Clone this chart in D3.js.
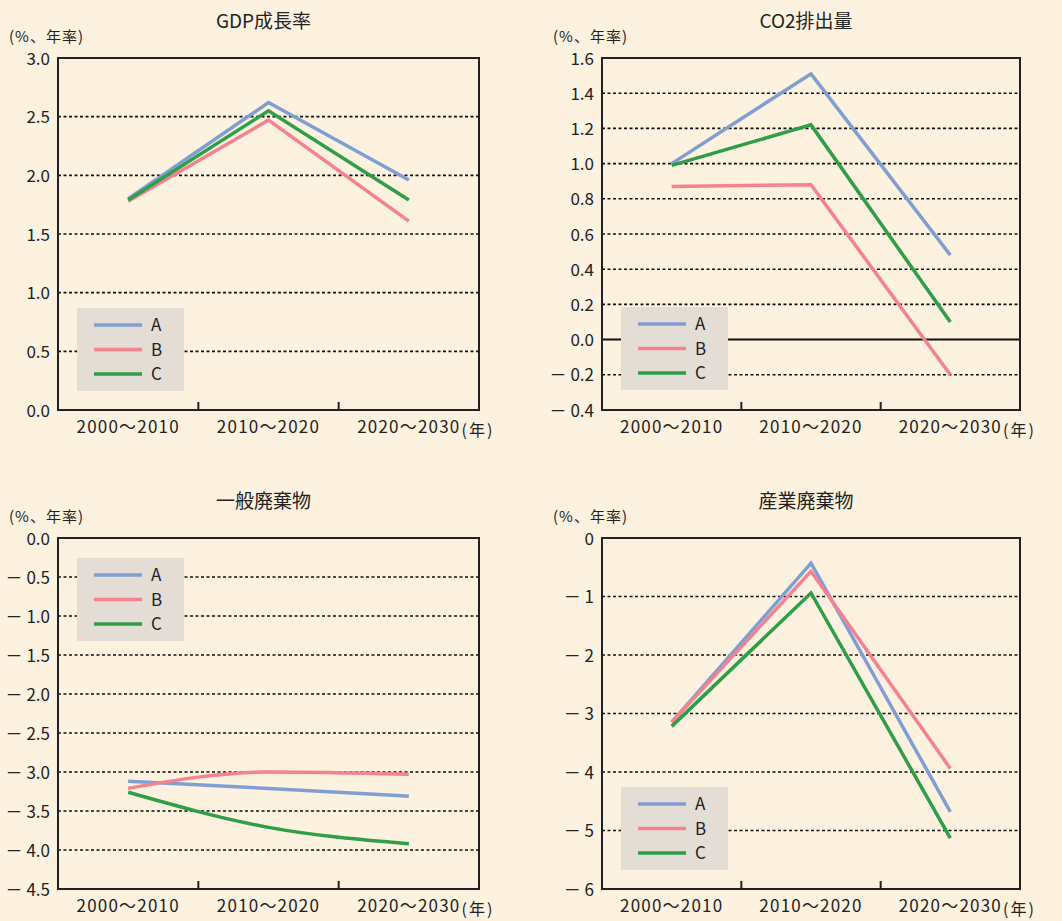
<!DOCTYPE html>
<html><head><meta charset="utf-8">
<script src="https://cdn.jsdelivr.net/npm/d3@7"></script>
<style>
html,body{margin:0;padding:0;background:#fdf1df;}
svg{display:block;font-family:"Noto Sans CJK JP","Noto Sans",sans-serif;}
</style></head><body>
<svg id="c" width="1062" height="921"></svg>
<script>
const periods = ["2000～2010", "2010～2020", "2020～2030"];
const seriesNames = ["A", "B", "C"];
const seriesColors = ["#7f9fd3", "#f5828f", "#2f9e48"];

const titles = ["GDP成長率", "CO2排出量", "一般廃棄物", "産業廃棄物"];

const gdpA = [1.80, 2.62, 1.96];
const gdpB = [1.78, 2.47, 1.61];
const gdpC = [1.79, 2.55, 1.79];
const gdpTicks = [0.0, 0.5, 1.0, 1.5, 2.0, 2.5, 3.0];

const co2A = [1.00, 1.51, 0.48];
const co2B = [0.87, 0.88, -0.20];
const co2C = [0.99, 1.22, 0.10];
const co2Ticks = [-0.4, -0.2, 0.0, 0.2, 0.4, 0.6, 0.8, 1.0, 1.2, 1.4, 1.6];

const genA = [-3.12, -3.21, -3.31];
const genB = [-3.21, -3.00, -3.03];
const genC = [-3.26, -3.71, -3.92];
const genTicks = [-4.5, -4.0, -3.5, -3.0, -2.5, -2.0, -1.5, -1.0, -0.5, 0.0];

const indA = [-3.15, -0.43, -4.68];
const indB = [-3.15, -0.57, -3.94];
const indC = [-3.22, -0.94, -5.13];
const indTicks = [-6, -5, -4, -3, -2, -1, 0];

const unitLabel = "(%、年率)";
const yearLabel = "(年)";

const panels = [
  {title: titles[0], series: [gdpA, gdpB, gdpC], ticks: gdpTicks, dec: 1, curve: d3.curveLinear,
   box: {l: 58, r: 479, t: 58, b: 410}, zero: false},
  {title: titles[1], series: [co2A, co2B, co2C], ticks: co2Ticks, dec: 1, curve: d3.curveLinear,
   box: {l: 602, r: 1020, t: 58, b: 410}, zero: true},
  {title: titles[2], series: [genA, genB, genC], ticks: genTicks, dec: 1, curve: d3.curveMonotoneX,
   box: {l: 58, r: 479, t: 538, b: 889}, zero: false},
  {title: titles[3], series: [indA, indB, indC], ticks: indTicks, dec: 0, curve: d3.curveLinear,
   box: {l: 602, r: 1020, t: 538, b: 889}, zero: false}
];
const legendPos = [{x: 77, y: 308}, {x: 621, y: 307}, {x: 77, y: 558}, {x: 621, y: 787}];

const svg = d3.select("#c");
const FONT = "'Noto Sans CJK JP','Noto Sans',sans-serif";

panels.forEach((p, i) => {
  const b = p.box;
  const g = svg.append("g");
  const x = d3.scaleBand().domain(periods).range([b.l, b.r]).paddingInner(0).paddingOuter(0);
  const ext = d3.extent(p.ticks);
  const y = d3.scaleLinear().domain(ext).range([b.b, b.t]);

  // title
  g.append("text").attr("x", (b.l + b.r) / 2 - 5).attr("y", b.t - 30)
    .attr("text-anchor", "middle").attr("font-size", 19).attr("fill", "#222").text(p.title);
  // unit label
  g.append("text").attr("x", b.l - 49).attr("y", b.t - 16)
    .attr("font-size", 15).attr("letter-spacing", "1px").attr("fill", "#222").text(unitLabel);

  // grid
  p.ticks.filter(t => t !== ext[0] && t !== ext[1]).forEach(t => {
    const isZero = p.zero && Math.abs(t) < 1e-9;
    g.append("line").attr("x1", b.l).attr("x2", b.r).attr("y1", y(t)).attr("y2", y(t))
      .attr("stroke", "#111").attr("stroke-width", isZero ? 2 : 1.6)
      .attr("stroke-dasharray", isZero ? null : "3,2.5");
  });

  // y axis labels
  const yAxis = d3.axisLeft(y).tickValues(p.ticks).tickSize(0).tickPadding(8)
    .tickFormat(d => {
      const s = Math.abs(d).toFixed(p.dec);
      return d < -1e-9 ? "－ " + s : s;
    });
  const ya = g.append("g").attr("transform", `translate(${b.l},0)`).call(yAxis);
  ya.select(".domain").remove();
  ya.selectAll("text").attr("font-size", 17).attr("fill", "#222").attr("font-family", FONT)
    .attr("dy", "0.36em");

  // x axis labels
  const xAxis = d3.axisBottom(x).tickSize(0).tickPadding(11);
  const xa = g.append("g").attr("transform", `translate(0,${b.b})`).call(xAxis);
  xa.select(".domain").remove();
  xa.selectAll("text").attr("font-size", 17).attr("fill", "#222").attr("letter-spacing", "1.2px")
    .attr("font-family", FONT);
  const lastNode = xa.selectAll("text").nodes()[2];
  const lastW = lastNode.getComputedTextLength();
  g.append("text").attr("x", x(periods[2]) + x.bandwidth() / 2 + lastW / 2 + 1).attr("y", b.b + 26)
    .attr("font-size", 16).attr("letter-spacing", "2px").attr("fill", "#222").text(yearLabel);

  // inner x ticks at band boundaries
  periods.slice(1).forEach(c => {
    g.append("line").attr("x1", x(c)).attr("x2", x(c)).attr("y1", b.b).attr("y2", b.b - 8)
      .attr("stroke", "#222").attr("stroke-width", 2);
  });

  // legend
  const lp = legendPos[i];
  const lg = g.append("g").attr("transform", `translate(${lp.x},${lp.y})`);
  lg.append("rect").attr("width", 107).attr("height", 83).attr("fill", "#e4ddd6");
  seriesNames.forEach((n, k) => {
    const yy = 17 + k * 24.5;
    lg.append("line").attr("x1", 17).attr("x2", 65).attr("y1", yy).attr("y2", yy)
      .attr("stroke", seriesColors[k]).attr("stroke-width", 3.5);
    lg.append("text").attr("x", 74).attr("y", yy + 6).attr("font-size", 17).attr("fill", "#222").text(n);
  });

  // series lines
  const line = d3.line().x((d, k) => x(periods[k]) + x.bandwidth() / 2).y(d => y(d)).curve(p.curve);
  p.series.forEach((s, k) => {
    g.append("path").attr("d", line(s)).attr("fill", "none")
      .attr("stroke", seriesColors[k]).attr("stroke-width", 3.5).attr("stroke-linejoin", "miter");
  });

  // frame
  g.append("rect").attr("x", b.l).attr("y", b.t).attr("width", b.r - b.l).attr("height", b.b - b.t)
    .attr("fill", "none").attr("stroke", "#222").attr("stroke-width", 2);
});
</script>
</body></html>
